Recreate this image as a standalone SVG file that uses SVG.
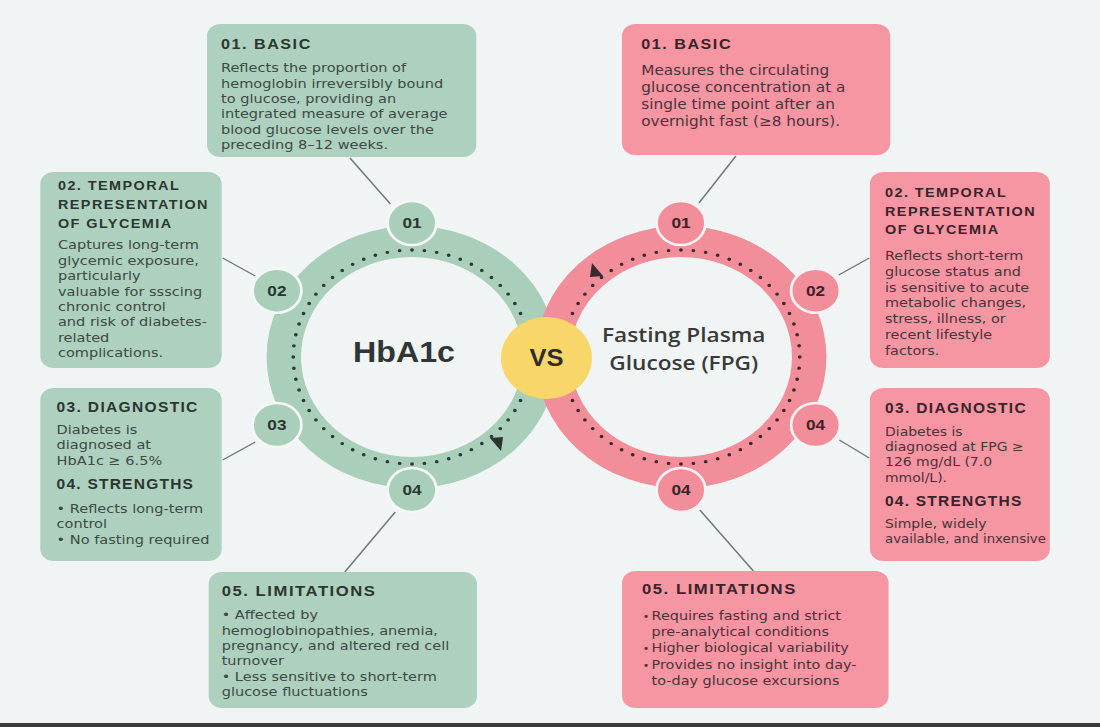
<svg xmlns="http://www.w3.org/2000/svg" width="1100" height="727" viewBox="0 0 1100 727">
<style>
.bg{fill:#f0f4f5}
.gbox{fill:#aed0be}
.pbox{fill:#f596a2}
.gring{fill:none;stroke:#a9ceba;stroke-width:31}
.pring{fill:none;stroke:#f28d9a;stroke-width:31}
.gdots{fill:none;stroke:#2c3a35;stroke-width:3.4;stroke-linecap:round;stroke-dasharray:0 11.2}
.pdots{fill:none;stroke:#3a2a2e;stroke-width:3.4;stroke-linecap:round;stroke-dasharray:0 11.2}
.gbadge{fill:#a9ceba;stroke:#f3f7f6;stroke-width:2.5}
.pbadge{fill:#f28d9a;stroke:#f7f2f3;stroke-width:2.5}
.bt{font-family:"Liberation Sans",Arial,sans-serif;font-weight:700;font-size:15.5px;text-anchor:middle}
.h{font-family:"Liberation Sans",Arial,sans-serif;font-weight:700}
.b{font-family:"DejaVu Sans","Liberation Sans",sans-serif}
.gh{fill:#2b3631}
.gt{fill:#3d4a45}
.ph{fill:#3a2329}
.pt{fill:#4d3238}
.conn{stroke:#6e7a78;stroke-width:1.3;fill:none}
</style>
<rect class="bg" x="0" y="0" width="1100" height="727"/>
<g transform="scale(1.11 1)">
  <g id="connectors">
    <line class="conn" x1="315.3" y1="158" x2="351.7" y2="204"/>
    <line class="conn" x1="200.6" y1="258" x2="230" y2="276"/>
    <line class="conn" x1="200.6" y1="460" x2="230" y2="442"/>
    <line class="conn" x1="356.1" y1="512" x2="310.6" y2="572"/>
    <line class="conn" x1="663" y1="156" x2="629.7" y2="203"/>
    <line class="conn" x1="783.1" y1="258" x2="755.6" y2="275"/>
    <line class="conn" x1="756.2" y1="440" x2="783.1" y2="458"/>
    <line class="conn" x1="630.5" y1="510" x2="678.7" y2="571"/>
  </g>

  <g id="ring-hba1c">
    <circle class="gring" cx="371.2" cy="357" r="115.5"/>
    <circle class="gdots" cx="371.2" cy="357" r="107"/>
    <polygon points="441.4,438 453.2,437 451.4,451" fill="#2b3532"/>
    <text class="h" x="364" y="362" font-size="29" text-anchor="middle" fill="#2f3634">HbA1c</text>
  </g>

  <g id="ring-fpg">
    <circle class="pring" cx="613.5" cy="357" r="115.5"/>
    <circle class="pdots" cx="613.5" cy="357" r="107"/>
    <polygon points="543.3,276 531.5,277 533.3,263" fill="#3a2a2e"/>
    <text font-family="'Open Sans','Liberation Sans',sans-serif" font-size="20.4" font-weight="600" text-anchor="middle" fill="#3a3a3a"><tspan x="616" y="342">Fasting Plasma</tspan><tspan x="616" y="370">Glucose (FPG)</tspan></text>
  </g>

  <g id="vs">
    <circle cx="492.3" cy="358" r="41" fill="#f8d66a"/>
    <text class="h" x="492.3" y="366.5" font-size="23" text-anchor="middle" fill="#2d2d2d">VS</text>
  </g>

  <g id="badge-g01"><circle class="gbadge" cx="371.2" cy="223" r="22"/><text class="bt gh" x="371.2" y="228.5">01</text></g>
  <g id="badge-g02"><circle class="gbadge" cx="249.5" cy="290.7" r="22"/><text class="bt gh" x="249.5" y="296.2">02</text></g>
  <g id="badge-g03"><circle class="gbadge" cx="249.5" cy="425" r="22"/><text class="bt gh" x="249.5" y="430.5">03</text></g>
  <g id="badge-g04"><circle class="gbadge" cx="371.2" cy="490" r="22"/><text class="bt gh" x="371.2" y="495.5">04</text></g>

  <g id="badge-p01"><circle class="pbadge" cx="613.5" cy="223" r="22"/><text class="bt ph" x="613.5" y="228.5">01</text></g>
  <g id="badge-p02"><circle class="pbadge" cx="734.7" cy="290.7" r="22"/><text class="bt ph" x="734.7" y="296.2">02</text></g>
  <g id="badge-p04r"><circle class="pbadge" cx="734.7" cy="425" r="22"/><text class="bt ph" x="734.7" y="430.5">04</text></g>
  <g id="badge-p04b"><circle class="pbadge" cx="613.5" cy="490" r="22"/><text class="bt ph" x="613.5" y="495.5">04</text></g>

  <g id="g-basic">
    <rect class="gbox" x="186.5" y="24" width="242.6" height="133" rx="12"/>
    <text class="h gh" x="199.1" y="49" font-size="14.5" letter-spacing="1.4">01. BASIC</text>
    <text class="b gt" font-size="13.1"><tspan x="199.1" y="72.3">Reflects the proportion of</tspan><tspan x="199.1" y="87.7">hemoglobin irreversibly bound</tspan><tspan x="199.1" y="103">to glucose, providing an</tspan><tspan x="199.1" y="118.3">integrated measure of average</tspan><tspan x="199.1" y="133.6">blood glucose levels over the</tspan><tspan x="199.1" y="149">preceding 8–12 weeks.</tspan></text>
  </g>

  <g id="g-temporal">
    <rect class="gbox" x="36.3" y="172" width="163.4" height="196" rx="12"/>
    <text class="h gh" font-size="13" letter-spacing="1.3"><tspan x="52.2" y="190">02. TEMPORAL</tspan><tspan x="52.2" y="209">REPRESENTATION</tspan><tspan x="52.2" y="227.7">OF GLYCEMIA</tspan></text>
    <text class="b gt" font-size="13.1"><tspan x="52.2" y="249.4">Captures long-term</tspan><tspan x="52.2" y="264.8">glycemic exposure,</tspan><tspan x="52.2" y="280.2">particularly</tspan><tspan x="52.2" y="295.6">valuable for ssscing</tspan><tspan x="52.2" y="311">chronic control</tspan><tspan x="52.2" y="326.4">and risk of diabetes-</tspan><tspan x="52.2" y="341.8">related</tspan><tspan x="52.2" y="357.2">complications.</tspan></text>
  </g>

  <g id="g-diagnostic">
    <rect class="gbox" x="36.3" y="388" width="163.4" height="173" rx="12"/>
    <text class="h gh" x="51" y="412" font-size="14" letter-spacing="1.2">03. DIAGNOSTIC</text>
    <text class="b gt" font-size="13.1"><tspan x="51" y="434">Diabetes is</tspan><tspan x="51" y="449.4">diagnosed at</tspan><tspan x="51" y="465">HbA1c ≥ 6.5%</tspan></text>
    <text class="h gh" x="51" y="489.3" font-size="14" letter-spacing="1.1">04. STRENGTHS</text>
    <text class="b gt" font-size="13.1"><tspan x="51" y="512.7">• Reflects long-term</tspan><tspan x="51" y="528.3">control</tspan><tspan x="51" y="544.3">• No fasting required</tspan></text>
  </g>

  <g id="g-limitations">
    <rect class="gbox" x="188" y="572" width="241.7" height="136" rx="12"/>
    <text class="h gh" x="199.7" y="596" font-size="15" letter-spacing="1.4">05. LIMITATIONS</text>
    <text class="b gt" font-size="13.1"><tspan x="199.7" y="619.3">• Affected by</tspan><tspan x="199.7" y="634.7">hemoglobinopathies, anemia,</tspan><tspan x="199.7" y="650.1">pregnancy, and altered red cell</tspan><tspan x="199.7" y="665.5">turnover</tspan><tspan x="199.7" y="680.9">• Less sensitive to short-term</tspan><tspan x="199.7" y="696.3">glucose fluctuations</tspan></text>
  </g>

  <g id="p-basic">
    <rect class="pbox" x="560.3" y="24" width="241.7" height="131" rx="12"/>
    <text class="h ph" x="577.7" y="49" font-size="14.5" letter-spacing="1.4">01. BASIC</text>
    <text class="b pt" font-size="13.8"><tspan x="577.7" y="75">Measures the circulating</tspan><tspan x="577.7" y="92">glucose concentration at a</tspan><tspan x="577.7" y="108.6">single time point after an</tspan><tspan x="577.7" y="125.6">overnight fast (≥8 hours).</tspan></text>
  </g>

  <g id="p-temporal">
    <rect class="pbox" x="783.7" y="172" width="162.1" height="196" rx="12"/>
    <text class="h ph" font-size="13" letter-spacing="1.3"><tspan x="797.3" y="196.7">02. TEMPORAL</tspan><tspan x="797.3" y="215.7">REPRESENTATION</tspan><tspan x="797.3" y="234.3">OF GLYCEMIA</tspan></text>
    <text class="b pt" font-size="13"><tspan x="797.3" y="260">Reflects short-term</tspan><tspan x="797.3" y="275.8">glucose status and</tspan><tspan x="797.3" y="291.6">is sensitive to acute</tspan><tspan x="797.3" y="307.4">metabolic changes,</tspan><tspan x="797.3" y="323.2">stress, illness, or</tspan><tspan x="797.3" y="339">recent lifestyle</tspan><tspan x="797.3" y="354.8">factors.</tspan></text>
  </g>

  <g id="p-diagnostic">
    <rect class="pbox" x="783.7" y="388" width="162.1" height="173" rx="12"/>
    <text class="h ph" x="797.3" y="413.3" font-size="14" letter-spacing="1.2">03. DIAGNOSTIC</text>
    <text class="b pt" font-size="12.6"><tspan x="797.3" y="436">Diabetes is</tspan><tspan x="797.3" y="451.2">diagnosed at FPG ≥</tspan><tspan x="797.3" y="466.4">126 mg/dL (7.0</tspan><tspan x="797.3" y="481.6">mmol/L).</tspan></text>
    <text class="h ph" x="797.3" y="506" font-size="14" letter-spacing="1.1">04. STRENGTHS</text>
    <text class="b pt" font-size="12.6"><tspan x="797.3" y="528.3">Simple, widely</tspan><tspan x="797.3" y="543.5" textLength="145" lengthAdjust="spacingAndGlyphs">available, and inxensive</tspan></text>
  </g>

  <g id="p-limitations">
    <rect class="pbox" x="560.4" y="571" width="240.1" height="137" rx="12"/>
    <text class="h ph" x="578.4" y="594.3" font-size="15" letter-spacing="1.4">05. LIMITATIONS</text>
    <text class="b pt" font-size="13"><tspan x="579" y="620" font-size="10">•</tspan><tspan x="587" y="620">Requires fasting and strict</tspan><tspan x="587" y="636.2">pre-analytical conditions</tspan><tspan x="579" y="652.4" font-size="10">•</tspan><tspan x="587" y="652.4">Higher biological variability</tspan><tspan x="579" y="668.6" font-size="10">•</tspan><tspan x="587" y="668.6">Provides no insight into day-</tspan><tspan x="587" y="684.8">to-day glucose excursions</tspan></text>
  </g>
</g>
<rect x="0" y="723" width="1100" height="4" fill="#3a3a3a"/>
</svg>
